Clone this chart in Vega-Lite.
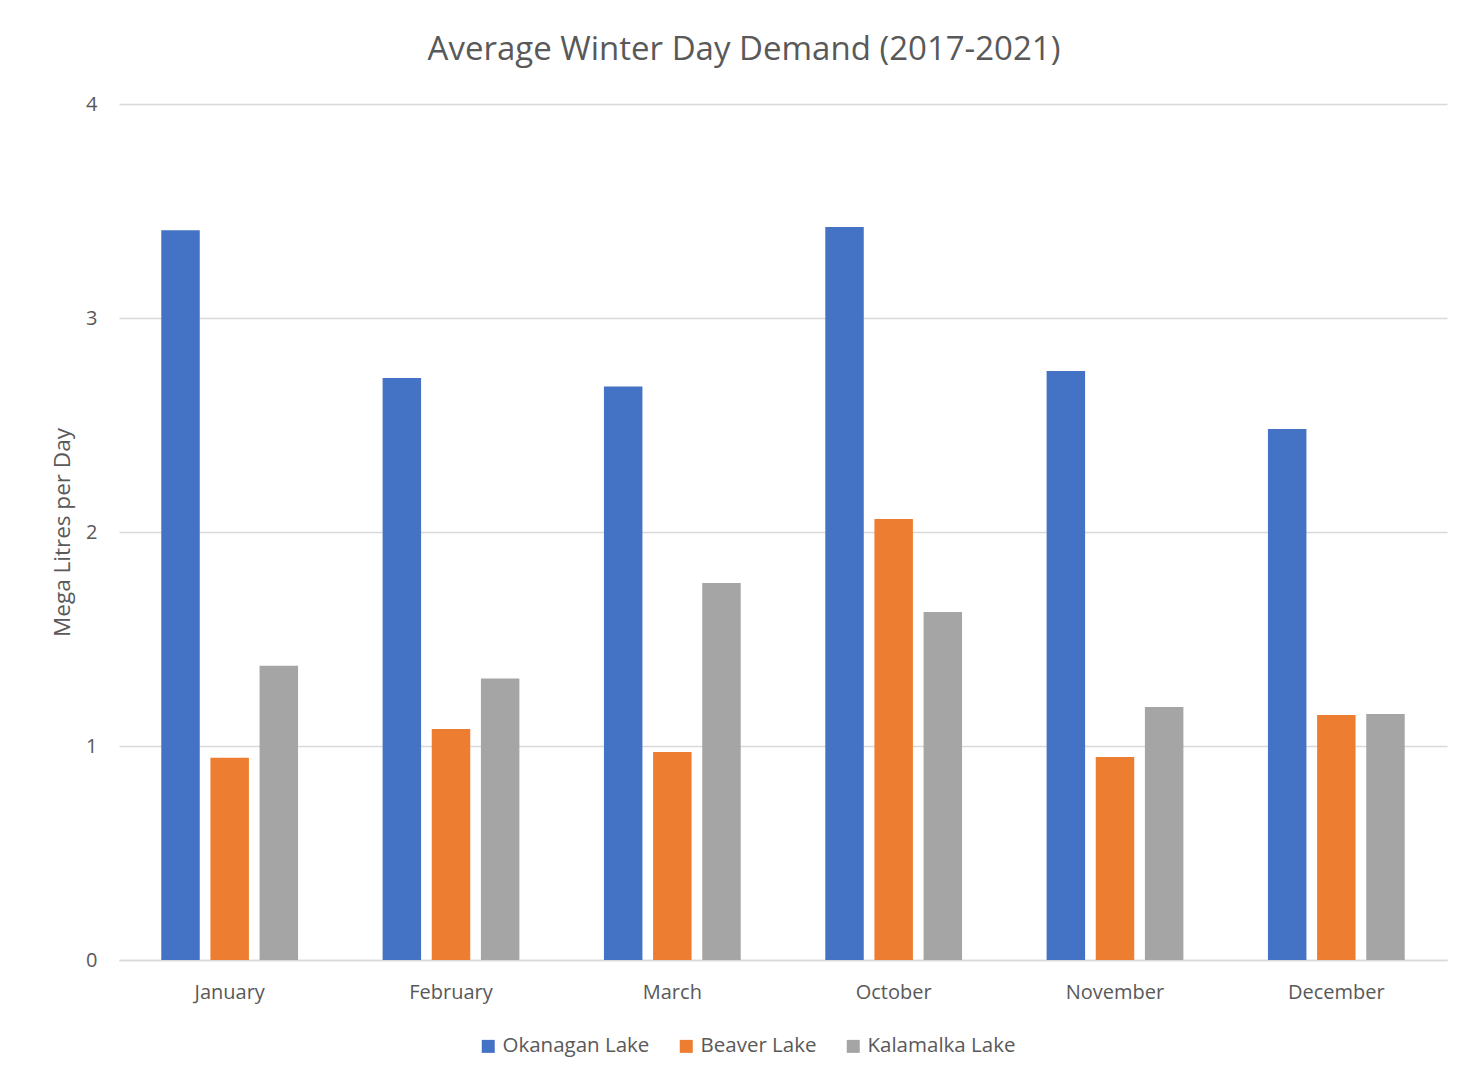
{
  "$schema": "https://vega.github.io/schema/vega-lite/v6.json",
  "autosize": {"type": "none"},
  "width": 1328,
  "height": 856,
  "padding": {"left": 119, "top": 104, "right": 14, "bottom": 116},
  "background": "white",
  "title": {
    "text": "Average Winter Day Demand (2017-2021)",
    "font": "Open Sans",
    "fontSize": 33,
    "fontWeight": "normal",
    "color": "#595959",
    "anchor": "middle",
    "dx": -39,
    "offset": 27
  },
  "data": {
    "values": [
      {"month": "January", "lake": "Okanagan Lake", "demand": 3.41},
      {"month": "January", "lake": "Beaver Lake", "demand": 0.945},
      {"month": "January", "lake": "Kalamalka Lake", "demand": 1.375},
      {"month": "February", "lake": "Okanagan Lake", "demand": 2.72},
      {"month": "February", "lake": "Beaver Lake", "demand": 1.08},
      {"month": "February", "lake": "Kalamalka Lake", "demand": 1.315},
      {"month": "March", "lake": "Okanagan Lake", "demand": 2.68},
      {"month": "March", "lake": "Beaver Lake", "demand": 0.972},
      {"month": "March", "lake": "Kalamalka Lake", "demand": 1.762},
      {"month": "October", "lake": "Okanagan Lake", "demand": 3.425},
      {"month": "October", "lake": "Beaver Lake", "demand": 2.061},
      {"month": "October", "lake": "Kalamalka Lake", "demand": 1.626},
      {"month": "November", "lake": "Okanagan Lake", "demand": 2.752},
      {"month": "November", "lake": "Beaver Lake", "demand": 0.949},
      {"month": "November", "lake": "Kalamalka Lake", "demand": 1.182},
      {"month": "December", "lake": "Okanagan Lake", "demand": 2.481},
      {"month": "December", "lake": "Beaver Lake", "demand": 1.145},
      {"month": "December", "lake": "Kalamalka Lake", "demand": 1.15}
    ]
  },
  "mark": {"type": "bar"},
  "encoding": {
    "x": {
      "field": "month",
      "type": "nominal",
      "sort": ["January", "February", "March", "October", "November", "December"],
      "scale": {"paddingInner": 0.382, "paddingOuter": 0.191},
      "axis": {
        "title": null,
        "labelAngle": 0,
        "labelFont": "Open Sans",
        "labelFontSize": 20,
        "labelColor": "#595959",
        "labelPadding": 22,
        "ticks": false,
        "domain": true,
        "domainColor": "#d9d9d9",
        "domainWidth": 1.5
      }
    },
    "xOffset": {
      "field": "lake",
      "type": "nominal",
      "sort": ["Okanagan Lake", "Beaver Lake", "Kalamalka Lake"],
      "scale": {"paddingInner": 0.217, "paddingOuter": 0}
    },
    "y": {
      "field": "demand",
      "type": "quantitative",
      "scale": {"domain": [0, 4], "nice": false},
      "axis": {
        "title": "Mega Litres per Day",
        "titleFont": "Open Sans",
        "titleFontSize": 22.5,
        "titleFontWeight": "normal",
        "titleColor": "#595959",
        "titleX": -57,
        "titleY": 428,
        "titleAngle": -90,
        "titleAlign": "center",
        "titleBaseline": "middle",
        "values": [0, 1, 2, 3, 4],
        "labelFont": "Open Sans",
        "labelFontSize": 20,
        "labelColor": "#595959",
        "labelPadding": 22,
        "ticks": false,
        "domain": false,
        "grid": true,
        "gridColor": "#d9d9d9",
        "gridWidth": 1.5
      }
    },
    "color": {
      "field": "lake",
      "type": "nominal",
      "sort": ["Okanagan Lake", "Beaver Lake", "Kalamalka Lake"],
      "scale": {
        "domain": ["Okanagan Lake", "Beaver Lake", "Kalamalka Lake"],
        "range": ["#4472c4", "#ed7d31", "#a5a5a5"]
      },
      "legend": {
        "title": null,
        "orient": "none",
        "direction": "horizontal",
        "legendX": 359,
        "legendY": 932,
        "symbolType": "square",
        "symbolSize": 169,
        "symbolStrokeWidth": 0,
        "labelFont": "Open Sans",
        "labelFontSize": 20.5,
        "labelColor": "#595959",
        "labelOffset": 4,
        "columnPadding": 26
      }
    }
  },
  "config": {
    "view": {"stroke": null}
  }
}
